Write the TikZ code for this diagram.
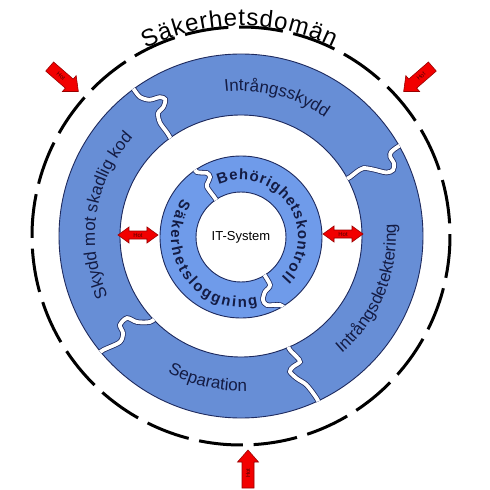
\documentclass[tikz,border=0pt]{standalone}
\usepackage{fontspec}
\setmainfont{Liberation Sans}
\usetikzlibrary{decorations.text}
\definecolor{ringA}{HTML}{678ED6}
\definecolor{ringB}{HTML}{6F9BEA}
\definecolor{navy}{HTML}{141C44}
\definecolor{edgecol}{HTML}{1E2A5E}
\definecolor{hotred}{HTML}{F20000}
\definecolor{hotedge}{HTML}{990000}
\definecolor{hottext}{HTML}{500000}
\newcommand\mytitlefont{\fontsize{24pt}{24pt}\selectfont}
\newcommand\myringfont{\fontsize{17pt}{17pt}\selectfont\color{navy}}
\newcommand\mycorefont{\fontsize{15pt}{15pt}\selectfont\bfseries\color{navy}}
\begin{document}
\begin{tikzpicture}[x=1pt,y=1pt,
  ringedge/.style={draw=edgecol, line width=0.9pt},
  gapline/.style={draw=white, line width=3.8pt, preaction={draw=edgecol, line width=5.4pt}},
  domainline/.style={draw=black, line width=3pt, dash pattern=on 44pt off 10.716pt},
  arrowline/.style={fill=hotred, draw=hotedge, line width=0.6pt, line join=miter},
  hotlabel/.style={font=\fontsize{6pt}{6pt}\selectfont, text=hottext, inner sep=0pt, transform shape},
  itlabel/.style={font=\fontsize{13pt}{13pt}\selectfont, inner sep=0pt},
  pics/hotarrow/.style={code={
    \draw[arrowline] (-19,-6) -- (7,-6) -- (7,-10.5) -- (19,0) -- (7,10.5) -- (7,6) -- (-19,6) -- cycle;
    \node[hotlabel, rotate=#1] (-lbl) at (-4,0) {Hot};
  }},
  pics/hotarrow/.default=0,
  pics/hotdouble/.style={code={
    \draw[arrowline] (-20,0) -- (-9,8) -- (-9,4) -- (9,4) -- (9,8) -- (20,0) -- (9,-8) -- (9,-4) -- (-9,-4) -- (-9,-8) -- cycle;
    \node[hotlabel] (-lbl) at (0,0) {Hot};
  }}
]
\useasboundingbox (-241,-254) rectangle (249,236);

% security domain
\draw[domainline] (273.47:209) arc[start angle=273.47, delta angle=360, radius=209];

% outer ring
\fill[ringA, even odd rule] (0,0) circle[radius=182] (0,0) circle[radius=121];
\draw[ringedge] (0,0) circle[radius=182];
\draw[ringedge] (0,0) circle[radius=121];

% inner ring
\fill[ringB, even odd rule] (0,-1) circle[radius=81] (0,-1) circle[radius=45];
\draw[ringedge] (0,-1) circle[radius=81];
\draw[ringedge] (0,-1) circle[radius=45];

% outer gaps
\begin{scope}[even odd rule]
\clip (0,0) circle[radius=182.4] (0,0) circle[radius=120.6];
\begin{scope}[rotate=126]
\draw[gapline] plot[smooth] coordinates {(116,0) (127,-1) (139,-1) (148,-5) (150,-13) (155,-19) (160,-16) (164,-6) (172,0) (182,0.5) (188,0.5)};
\end{scope}
\begin{scope}[rotate=29]
\draw[gapline] plot[smooth] coordinates {(116,-1) (124,-1.3) (132,0) (140,0) (148,-6) (158,-15) (165,-16) (169,-10.6) (169,-3) (172,0.7) (180,2) (188,2)};
\end{scope}
\begin{scope}[rotate=-65]
\draw[gapline] plot[smooth] coordinates {(116,-4) (124,-3.8) (133,-0.6) (139,0.3) (140.5,-7.9) (143.6,-13) (152.5,-9.7) (162.8,-3.5) (179,0) (188,0)};
\end{scope}
\begin{scope}[rotate=221]
\draw[gapline] plot[smooth] coordinates {(116,6) (125,5.2) (134.9,-3.3) (139.9,-12.9) (149.8,-12.2) (152.7,-4.2) (161,0.6) (179,-4.4) (188,-4.5)};
\end{scope}
\end{scope}

% inner gaps
\begin{scope}[even odd rule, shift={(0,-1)}]
\clip (0,0) circle[radius=81.4] (0,0) circle[radius=44.6];
\begin{scope}[rotate=124]
\draw[gapline] plot[smooth] coordinates {(40,0) (46.8,-0.2) (60.5,0.2) (64,-3.4) (67,-7.8) (72,-7.6) (78.5,0.2) (86,0)};
\end{scope}
\begin{scope}[rotate=-58]
\draw[gapline] plot[smooth] coordinates {(40,-0.4) (56,-0.8) (59.3,-8.8) (65,-14.7) (71.5,-14) (78.4,-2.9) (86,0)};
\end{scope}
\end{scope}

% texts
\path[decorate, decoration={text along path, text={|\mytitlefont|Säkerhetsdomän}, text align=fit to path}]
  (117:210) arc[start angle=117, end angle=64, radius=210];
\path[decorate, decoration={text along path, text={|\myringfont|Intrångsskydd}, text align=center}]
  (105.5:145) arc[start angle=105.5, end angle=45.5, radius=145];
\path[decorate, decoration={text along path, text={|\myringfont|Skydd mot skadlig kod}, text align=center}]
  (211:146) arc[start angle=211, end angle=131, radius=146];
\path[decorate, decoration={text along path, text={|\myringfont|Separation}, text align=center}]
  (232:155) arc[start angle=232, end angle=282, radius=155];
\path[decorate, decoration={text along path, text={|\myringfont|Intrångsdetektering}, text align=center}]
  (-55.5:155) arc[start angle=-55.5, end angle=10.5, radius=155];
\path[decorate, decoration={text along path, text={|\mycorefont|Behörighetskontroll}, text align=fit to path}]
  ([shift={(0,-1)}]113:57) arc[start angle=113, end angle=-45, radius=57];
\path[decorate, decoration={text along path, text={|\mycorefont|Säkerhetsloggning}, text align=fit to path}]
  ([shift={(0,-1)}]147:70) arc[start angle=147, end angle=284, radius=70];

\node[itlabel] (it) at (0,-1) {IT-System};

% threat arrows
\pic[rotate=-41] (a1) at (-177,157) {hotarrow};
\pic[rotate=-139] (a2) at (177,157) {hotarrow=180};
\pic[rotate=90] (a3) at (7,-233) {hotarrow};
\pic (d1) at (-103,1) {hotdouble};
\pic (d2) at (102,2) {hotdouble};
\end{tikzpicture}
\end{document}
